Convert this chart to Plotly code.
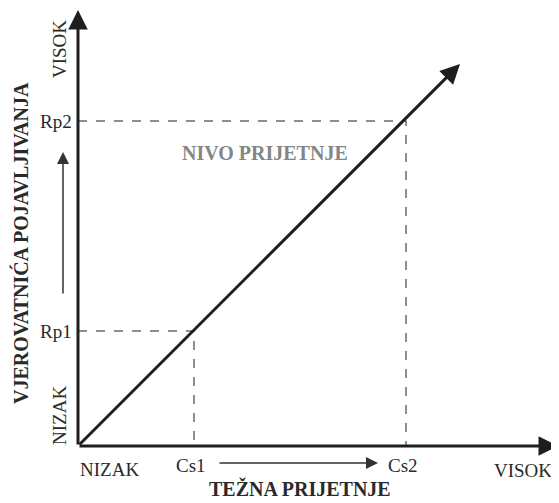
import plotly.graph_objects as go

# Data (in axis units; origin at lower-left)
cs_labels = ["Cs1", "Cs2"]
cs_values = [116, 328]
rp_labels = ["Rp1", "Rp2"]
rp_values = [115, 325]
diag_end = 382
x_axis_end = 480
y_axis_end = 436

FONT = "Liberation Serif, Times New Roman, serif"
TXT = "#2a2a2a"
AX = "#1e1e1e"

fig = go.Figure()

# dashed guide lines
for cx, ry in zip(cs_values, rp_values):
    fig.add_trace(go.Scatter(x=[0, cx, cx], y=[ry, ry, 0], mode="lines",
                             line=dict(color="#6a6a6a", width=1.5, dash="dash"),
                             hoverinfo="skip", showlegend=False))

fig.add_trace(go.Scatter(x=[0, diag_end], y=[0, diag_end], mode="lines",
                         line=dict(color="rgba(0,0,0,0)", width=0),
                         hoverinfo="skip", showlegend=False))

ann = []
def arrow(x0, y0, x1, y1, width, size, color):
    ann.append(dict(x=x1, y=y1, ax=x0, ay=y0, xref="x", yref="y", axref="x", ayref="y",
                    text="", showarrow=True, arrowhead=2, arrowsize=size,
                    arrowwidth=width, arrowcolor=color, standoff=0, startstandoff=0))

# axes
arrow(0, 0, 0, y_axis_end, 3, 1.3, AX)
arrow(0, 0, x_axis_end, 0, 3, 1.3, AX)
# diagonal
arrow(0, 0, diag_end, diag_end, 3, 1.3, AX)
# small direction arrows
arrow(-15, 151, -15, 294, 1.5, 1.6, "#333333")
arrow(140, -17, 300, -17, 1.5, 1.6, "#333333")

def text(x, y, s, size=19, angle=0, bold=False, color=TXT, xanchor="center"):
    ann.append(dict(x=x, y=y, xref="x", yref="y", text=(f"<b>{s}</b>" if bold else s),
                    showarrow=False, textangle=angle, xanchor=xanchor, yanchor="middle",
                    font=dict(family=FONT, size=size, color=color)))

for lab, v in zip(rp_labels, rp_values):
    text(-4, v, lab, xanchor="right")
for lab, v in zip(cs_labels, cs_values):
    text(v - 3, -19, lab)

text(31, -23, "NIZAK")
text(445, -24, "VISOK")
text(-19, 397, "VISOK", angle=-90)
text(-19, 30, "NIZAK", angle=-90)
text(-58, 203, "VJEROVATNIĆA POJAVLJIVANJA", size=20, angle=-90, bold=True)
text(222, -42, "TEŽNA PRIJETNJE", size=20, bold=True)
text(187, 293, "NIVO PRIJETNJE", size=20, bold=True, color="#858585")

# the page body adds an 8px offset; figure is sized so 1 unit = 1 px
fig.update_layout(
    width=551, height=495,
    margin=dict(l=0, r=0, t=0, b=0),
    plot_bgcolor="white", paper_bgcolor="white",
    xaxis=dict(range=[-70, 481], visible=False, fixedrange=True),
    yaxis=dict(range=[-57, 438], visible=False, fixedrange=True),
    annotations=ann,
    showlegend=False,
)

fig.write_html("out.html")
